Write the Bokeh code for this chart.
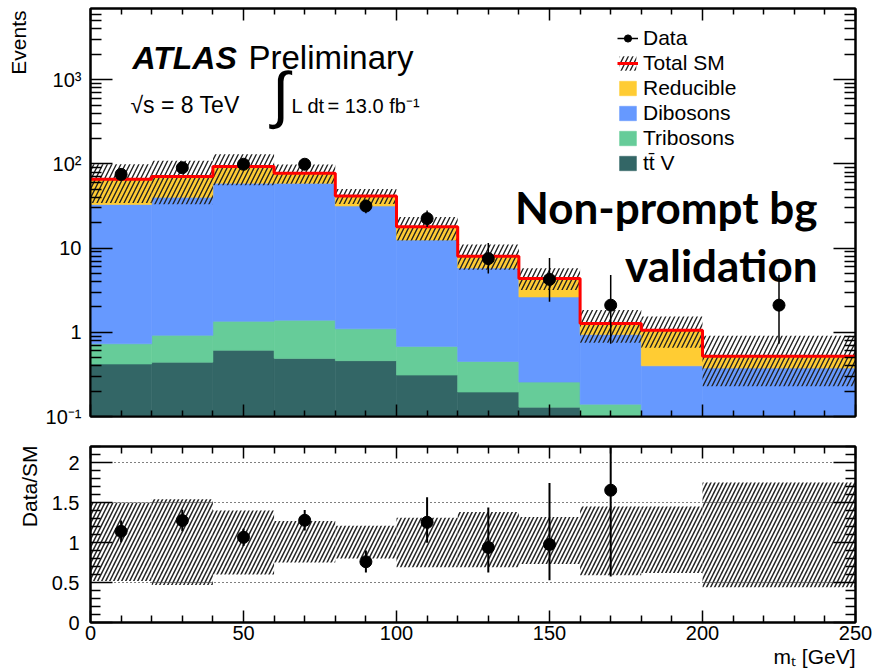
import numpy as np
from bokeh.plotting import figure
from bokeh.layouts import column, row
from bokeh.models import (Range1d, FixedTicker, LinearAxis, LogAxis, Label, Title,
                          Legend, LegendItem, Span, CustomJSTickFormatter)
from bokeh.embed import file_html
from bokeh.resources import INLINE

# ---------------------------------------------------------------- data
# m_T binning [GeV]
bin_edges = [0, 20, 40, 60, 80, 100, 120, 140, 160, 180, 200, 250]

# expected events per bin, stacked bottom -> top
ttv = [0.42, 0.44, 0.61, 0.49, 0.46, 0.31, 0.195, 0.129, 0.0, 0.0, 0.0]
tribosons = [0.31, 0.48, 0.74, 0.90, 0.64, 0.37, 0.255, 0.127, 0.14, 0.0, 0.0]
dibosons = [32.3, 39.1, 57.7, 57.6, 30.5, 11.8, 5.35, 2.37, 0.80, 0.40, 0.376]
reducible = [32.8, 30.6, 33.9, 18.5, 10.0, 5.4, 2.2, 1.73, 0.33, 0.66, 0.144]

# total SM uncertainty band, as fraction of the SM expectation
sm_band_hi = [1.50, 1.54, 1.40, 1.27, 1.21, 1.31, 1.38, 1.32, 1.45, 1.45, 1.75]
sm_band_lo = [0.52, 0.47, 0.60, 0.75, 0.80, 0.69, 0.69, 0.73, 0.59, 0.62, 0.44]

# observed data with error bar edges
data_x = [10, 30, 50, 70, 90, 110, 130, 150, 170, 225]
data_y = [75, 90, 99, 99, 31.6, 22.4, 7.5, 4.25, 2.1, 2.1]
data_hi = [84, 99.5, 109, 109, 37.5, 28.0, 11.5, 7.6, 4.8, 4.8]
data_lo = [66, 80.5, 89, 89, 26.0, 17.8, 5.0, 2.3, 0.73, 0.73]

# axis ticks
x_major = [0, 50, 100, 150, 200, 250]
x_minor = [v for v in range(0, 251, 10) if v % 50]
log_major = [0.1, 1.0, 10.0, 100.0, 1000.0]
log_labels = {0.1: "10\u207b\u00b9", 1.0: "1", 10.0: "10",
              100.0: "10\u00b2", 1000.0: "10\u00b3"}
ratio_major = [0.0, 0.5, 1.0, 1.5, 2.0]
ratio_labels = {0.0: "0", 0.5: "0.5", 1.0: "1", 1.5: "1.5", 2.0: "2"}
ratio_lines = [0.5, 1.5, 2.0]

TTV = "t\u0074\u0304 V"
components = [(TTV, ttv, "#336666"),
              ("Tribosons", tribosons, "#66CC99"),
              ("Dibosons", dibosons, "#6699FF"),
              ("Reducible", reducible, "#FFCC33")]

# ---------------------------------------------------------------- derived
edges = np.array(bin_edges, dtype=float)
left, right = edges[:-1], edges[1:]
floor = 1e-3
stack = np.cumsum(np.vstack([np.zeros(len(ttv))] + [np.array(c[1]) for c in components]), axis=0)
total = stack[-1]
band_hi = total * np.array(sm_band_hi)
band_lo = total * np.array(sm_band_lo)

dx = np.array(data_x, dtype=float)
dy = np.array(data_y)
bin_idx = np.searchsorted(edges, dx, side="right") - 1
sm_at_data = total[bin_idx]
ratio_y = dy / sm_at_data
ratio_hi = np.array(data_hi) / sm_at_data
ratio_lo = np.array(data_lo) / sm_at_data
RATIO_MAX = 2.2
on_scale = ratio_y < RATIO_MAX

FONT = "Liberation Sans"
log_minor = [m * d for d in [0.1, 1, 10, 100, 1000] for m in range(2, 10) if m * d < 7000]

# page geometry (pixels)
STRIP_W = 42
PANEL_W = 873 - STRIP_W
PAD_L, PAD_R = 48, 18


def style_axis(ax, tick_in, minor_in, show_labels, standoff=0):
    ax.major_tick_in = tick_in
    ax.major_tick_out = 0
    ax.minor_tick_in = minor_in
    ax.minor_tick_out = 0
    ax.major_tick_line_width = 1.5
    ax.minor_tick_line_width = 1.5
    ax.major_tick_line_color = "black"
    ax.minor_tick_line_color = "black"
    ax.axis_line_width = 2
    ax.axis_line_color = "black"
    ax.major_label_text_font = FONT
    ax.major_label_text_color = "black"
    if show_labels:
        ax.major_label_text_font_size = "20px"
        ax.major_label_standoff = standoff
    else:
        # tick marks only on this side
        ax.formatter = CustomJSTickFormatter(code="return ''")
        ax.major_label_text_font_size = "1px"
        ax.major_label_standoff = 0


def frame_style(fig, top, bottom):
    fig.min_border_left = PAD_L
    fig.min_border_right = PAD_R
    fig.min_border_top = top
    fig.min_border_bottom = bottom
    fig.xgrid.visible = False
    fig.ygrid.visible = False
    fig.outline_line_color = "black"
    fig.outline_line_width = 2
    fig.background_fill_color = "white"
    fig.border_fill_color = "white"


def add_text(fig, x, y, text, size, style="normal", font=FONT, align="left", angle=0.0):
    fig.add_layout(Label(x=x, y=y, x_units="screen", y_units="screen", text=text,
                         text_font=font, text_font_size=f"{size}px", text_font_style=style,
                         text_align=align, text_baseline="middle", angle=angle,
                         text_color="black"))


# ---------------------------------------------------------------- main panel
p = figure(width=PANEL_W, height=430, y_axis_type="log",
           x_range=Range1d(0, 250), y_range=Range1d(0.1, 7000),
           output_backend="svg", toolbar_location=None,
           x_axis_location=None, y_axis_location=None)
frame_style(p, 8, 14)

x_tick = FixedTicker(ticks=x_major, minor_ticks=x_minor)
y_tick = FixedTicker(ticks=log_major, minor_ticks=log_minor)

ax_b = LinearAxis(ticker=x_tick)
style_axis(ax_b, 12, 6, False)
p.add_layout(ax_b, "below")
ax_t = LinearAxis(ticker=x_tick)
style_axis(ax_t, 12, 6, False)
p.add_layout(ax_t, "above")
ax_l = LogAxis(ticker=y_tick, major_label_overrides=log_labels)
style_axis(ax_l, 22, 11, True, 9)
p.add_layout(ax_l, "left")
ax_r = LogAxis(ticker=y_tick)
style_axis(ax_r, 22, 11, False)
p.add_layout(ax_r, "right")

stack_renderers = {}
for k, (name, vals, col) in enumerate(components):
    r = p.quad(left=left, right=right,
               bottom=np.maximum(stack[k], floor), top=np.maximum(stack[k + 1], floor),
               fill_color=col, line_color=col, line_width=0.6)
    stack_renderers[name] = r

r_band = p.quad(left=left, right=right, bottom=band_lo, top=band_hi,
                fill_alpha=0, line_color=None, hatch_pattern="/",
                hatch_color="#222222", hatch_weight=1.4, hatch_scale=9)
r_total = p.step(x=edges, y=np.append(total, total[-1]), mode="after",
                 line_color="#FF0000", line_width=3)
r_err = p.segment(x0=dx, y0=data_lo, x1=dx, y1=data_hi, line_color="black", line_width=1.5)
r_dot = p.scatter(x=dx, y=dy, size=12, color="black")

legend = Legend(items=[
    LegendItem(label="Data", renderers=[r_err, r_dot]),
    LegendItem(label="Total SM", renderers=[r_band, r_total]),
    LegendItem(label="Reducible", renderers=[stack_renderers["Reducible"]]),
    LegendItem(label="Dibosons", renderers=[stack_renderers["Dibosons"]]),
    LegendItem(label="Tribosons", renderers=[stack_renderers["Tribosons"]]),
    LegendItem(label=TTV, renderers=[stack_renderers[TTV]]),
], location=(527, 241), orientation="vertical")
legend.glyph_width = 21
legend.glyph_height = 18
legend.label_standoff = 5
legend.label_height = 18
legend.spacing = 1
legend.padding = 0
legend.margin = 0
legend.border_line_color = None
legend.background_fill_alpha = 0
legend.label_text_font = FONT
legend.label_text_font_size = "21px"
legend.label_text_color = "black"
p.add_layout(legend)

add_text(p, 42, 359, "ATLAS", 32, style="bold italic")
add_text(p, 158, 359, "Preliminary", 33)
add_text(p, 40, 312, "\u221as = 8 TeV", 23)
add_text(p, 190, 322, "\u222b", 62, align="center")
add_text(p, 201, 311, "L dt", 20)
add_text(p, 237, 311, "= 13.0 fb\u207b\u00b9", 20)
add_text(p, 727, 210, "Non-prompt bg", 44, style="bold", font="Lato", align="right")
add_text(p, 727, 152, "validation", 44, style="bold", font="Lato", align="right")

# ---------------------------------------------------------------- ratio panel
q = figure(width=PANEL_W, height=240, x_range=p.x_range, y_range=Range1d(0, RATIO_MAX),
           output_backend="svg", toolbar_location=None,
           x_axis_location=None, y_axis_location=None)
frame_style(q, 16, 48)

r_tick = FixedTicker(ticks=ratio_major,
                     minor_ticks=[round(0.1 * i, 1) for i in range(0, 23) if i % 5])
qx_b = LinearAxis(ticker=x_tick)
style_axis(qx_b, 12, 7, True, 3)
q.add_layout(qx_b, "below")
q.add_layout(Title(text="m\u209c [GeV]", align="right", standoff=0,
                   text_font=FONT, text_font_size="21px", text_font_style="normal",
                   text_color="black"), "below")
qx_t = LinearAxis(ticker=x_tick)
style_axis(qx_t, 12, 7, False)
q.add_layout(qx_t, "above")
qy_l = LinearAxis(ticker=r_tick, major_label_overrides=ratio_labels)
style_axis(qy_l, 22, 10, True, 11)
q.add_layout(qy_l, "left")
qy_r = LinearAxis(ticker=r_tick)
style_axis(qy_r, 22, 10, False)
q.add_layout(qy_r, "right")

for v in ratio_lines:
    q.add_layout(Span(location=v, dimension="width", line_color="black",
                      line_width=1.2, line_dash="1 3", level="underlay"))

q.quad(left=left, right=right, bottom=sm_band_lo, top=sm_band_hi,
       fill_alpha=0, line_color=None, hatch_pattern="/",
       hatch_color="#222222", hatch_weight=1.5, hatch_scale=8)
q.segment(x0=dx[on_scale], y0=ratio_lo[on_scale], x1=dx[on_scale],
          y1=ratio_hi[on_scale], line_color="black", line_width=2)
q.scatter(x=dx[on_scale], y=ratio_y[on_scale], size=12, color="black")

# ---------------------------------------------------------------- y titles strip
ys = figure(width=STRIP_W, height=670, x_range=Range1d(0, STRIP_W), y_range=Range1d(0, 670),
            output_backend="svg", toolbar_location=None,
            x_axis_location=None, y_axis_location=None)
ys.min_border = 0
ys.outline_line_color = None
ys.xgrid.visible = False
ys.ygrid.visible = False
add_text(ys, 17.7, 660, "Events", 21, align="right", angle=np.pi / 2)
add_text(ys, 28.7, 225, "Data/SM", 21, align="right", angle=np.pi / 2)

layout = row(ys, column(p, q, spacing=0), spacing=0)
open("out.html", "w").write(file_html(layout, INLINE))
